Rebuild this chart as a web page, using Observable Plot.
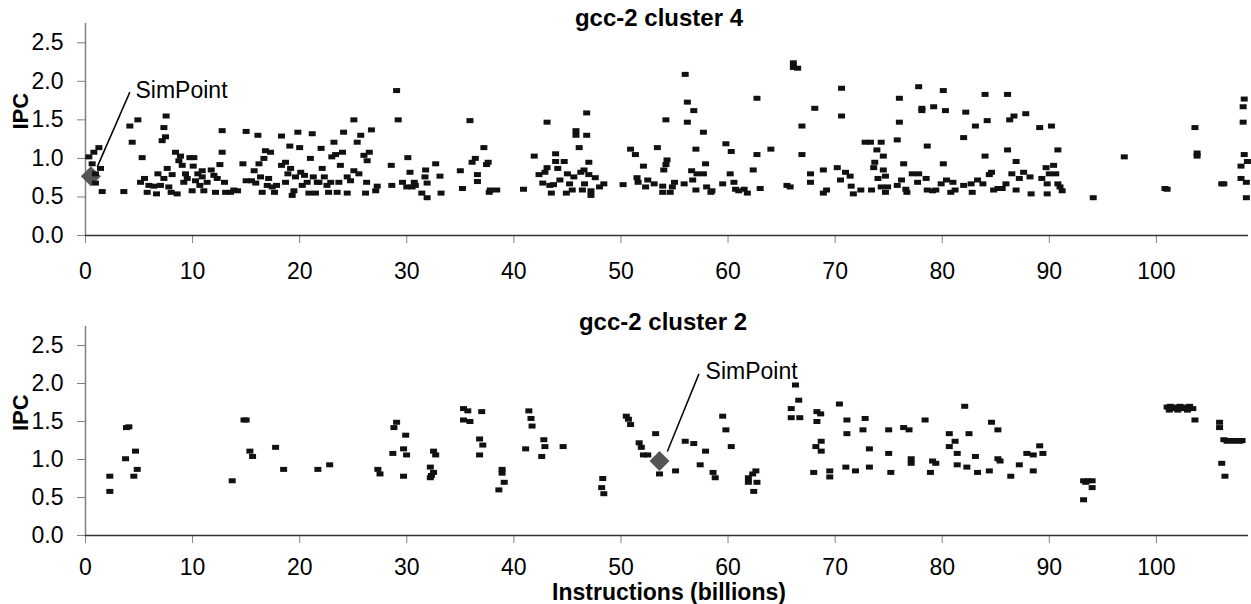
<!DOCTYPE html>
<html><head><meta charset="utf-8">
<script src="https://cdn.jsdelivr.net/npm/d3@7"></script>
<script src="https://cdn.jsdelivr.net/npm/@observablehq/plot@0.6"></script>
<style>body{margin:0;background:#fff} #chart svg{display:block}</style>
</head><body><div id="chart"></div>
<script>
const xTicks = [0,10,20,30,40,50,60,70,80,90,100];
const yTicks = [0,0.5,1,1.5,2,2.5];
const panelTitles = ["gcc-2 cluster 4","gcc-2 cluster 2"];
const xLabel = "Instructions (billions)";
const yLabel = "IPC";
const simLabel = "SimPoint";

// [instructions (billions), IPC]
const cluster4 = [[0.31,1.02],[0.78,1.08],[1.25,1.14],[0.62,0.93],[0.93,0.80],[1.40,0.87],[0.93,0.68],[1.56,0.57],[3.58,0.57],[4.14,1.42],[4.89,1.50],[4.36,1.21],[5.29,1.01],[5.14,0.69],[5.51,0.74],[5.92,0.65],[5.76,0.56],[6.38,0.64],[6.63,0.54],[6.76,0.80],[7.0,0.65],[7.16,1.23],[7.32,1.40],[7.53,1.55],[7.47,1.28],[7.32,0.74],[7.63,0.87],[7.78,0.63],[8.0,0.56],[8.09,0.79],[8.4,1.08],[8.56,0.54],[8.72,0.97],[8.87,1.03],[9.03,0.91],[9.18,0.69],[9.34,0.80],[9.5,0.74],[9.75,1.01],[9.96,0.58],[10.06,0.90],[10.12,1.01],[10.27,0.71],[10.49,0.80],[10.68,0.65],[10.9,0.76],[11.05,0.58],[11.36,0.69],[10.9,0.84],[11.74,0.85],[11.99,0.78],[12.14,0.56],[12.3,0.74],[12.55,0.92],[12.76,1.08],[12.76,1.36],[12.98,0.69],[13.08,0.56],[13.54,0.56],[13.85,0.59],[14.2,0.58],[14.7,0.93],[15.0,1.35],[15.0,0.71],[15.5,0.71],[15.75,0.84],[15.9,0.68],[16.1,1.30],[16.2,0.93],[16.34,0.76],[16.5,0.56],[16.66,1.0],[16.8,1.10],[16.97,0.65],[17.1,0.74],[17.28,1.08],[17.43,0.63],[17.65,0.56],[17.84,0.65],[18.3,1.29],[18.3,0.91],[18.68,0.95],[18.68,0.69],[18.9,0.80],[19.08,1.16],[19.15,0.87],[19.3,0.52],[19.46,0.58],[19.61,0.76],[19.83,1.34],[20.0,1.14],[20.1,0.82],[20.24,0.65],[20.45,0.78],[20.7,0.69],[20.86,0.55],[21.0,1.0],[21.17,1.32],[21.27,0.76],[21.48,0.55],[21.64,0.69],[21.8,0.69],[22.0,1.13],[22.1,0.87],[22.3,0.76],[22.55,0.65],[22.7,0.56],[22.9,0.69],[23.0,1.02],[23.2,1.21],[23.35,1.05],[23.5,0.56],[23.66,0.69],[23.8,0.91],[24.0,1.08],[24.1,1.34],[24.44,0.55],[24.44,0.76],[24.75,0.71],[25.06,1.50],[25.06,0.84],[25.37,1.21],[25.53,0.80],[25.7,1.30],[26.0,1.04],[26.15,0.55],[26.25,0.69],[26.5,1.08],[26.7,1.37],[26.3,0.97],[27.1,0.58],[27.24,0.64],[28.55,0.91],[28.6,0.65],[29.05,1.88],[29.2,1.50],[29.6,0.69],[30.1,1.01],[30.3,0.82],
[30.0,0.63],[30.7,0.69],[30.5,0.63],[30.8,0.65],[31.4,0.55],[31.76,0.85],[31.7,0.76],[31.9,0.68],[31.9,0.49],[32.7,0.93],[33.1,0.77],[33.2,0.55],[35.0,0.84],[35.2,0.61],[35.9,1.49],[36.1,0.95],[36.4,1.0],[36.6,0.79],[36.6,0.70],[37.2,1.14],[37.45,0.92],[37.6,0.95],[37.7,0.56],[37.8,0.59],[38.4,0.59],[40.9,0.60],[41.9,1.03],[42.35,0.79],[42.7,0.68],[42.9,0.82],[43.1,0.88],[43.1,1.47],[43.36,0.65],[43.5,0.55],[43.7,0.66],[43.9,1.06],[43.9,0.96],[44.1,0.87],[44.3,0.72],[44.7,0.96],[44.9,0.55],[45.0,0.80],[45.2,0.67],[45.45,0.59],[45.6,0.76],[45.8,1.36],[45.8,1.30],[46.1,1.14],[46.25,0.82],[46.4,0.59],[46.55,0.85],[46.6,0.67],[46.8,1.59],[46.8,1.30],[47.0,0.95],[47.0,0.79],[47.2,0.58],[47.2,0.52],[47.6,0.75],[48.0,0.63],[48.4,0.67],[50.2,0.66],[50.9,1.12],[51.35,1.05],[51.5,0.75],[51.6,0.69],[52.1,0.90],[52.3,0.63],[52.5,0.72],[53.1,0.67],[53.4,1.14],[53.9,0.64],[53.9,0.56],[54.0,0.85],[54.2,1.50],[54.2,0.92],[54.3,0.98],[54.6,0.56],[54.8,0.63],[55.0,0.69],[55.9,0.67],[56.0,2.09],[56.2,1.73],[56.2,1.47],[56.6,0.84],[56.7,0.72],[56.8,1.62],[57.0,1.12],[57.0,0.59],[57.1,0.80],[57.7,1.34],[57.7,0.80],[57.9,0.93],[58.0,0.63],[58.4,0.56],[58.5,0.58],[59.5,0.67],[59.8,1.19],[60.2,0.80],[60.3,1.09],[60.55,0.69],[60.7,0.60],[61.0,0.58],[61.5,0.60],[61.8,0.55],[62.35,0.85],[62.7,1.78],[62.7,1.05],[63.0,0.61],[64.0,1.12],[65.5,0.65],[65.8,0.63],[66.1,2.24],[66.1,2.18],[66.5,2.17],[66.9,1.42],[66.9,1.05],[67.7,0.80],[67.7,0.69],[68.1,1.65],
[68.9,0.85],[68.9,0.55],[69.2,0.59],[70.2,0.88],[70.5,0.72],[70.6,1.91],[70.6,1.55],[70.97,0.82],[71.4,0.77],[71.5,0.64],[71.7,0.54],[72.4,0.59],[72.8,1.21],[73.3,1.21],[73.4,0.59],[73.6,0.88],[73.7,0.95],[73.9,1.11],[74.0,0.74],[74.3,0.63],[74.3,1.21],[74.5,0.85],[74.5,1.03],[74.7,0.77],[74.7,0.56],[74.9,0.63],[75.8,1.24],[75.8,0.65],[76.0,1.78],[76.0,1.47],[76.2,0.72],[76.4,0.93],[76.6,0.60],[76.7,0.56],[77.2,0.80],[77.7,0.69],[77.8,1.93],[77.8,0.80],[78.1,1.65],[78.1,1.62],[78.5,0.74],[78.6,1.16],[78.6,0.59],[79.1,0.58],[79.2,1.67],[79.4,0.59],[79.9,0.67],[80.1,1.88],[80.1,0.93],[80.3,1.62],[80.4,0.72],[80.8,0.56],[81.0,0.69],[81.2,0.59],[82.0,1.27],[82.0,0.65],[82.2,1.60],[82.7,0.67],[82.8,0.56],[83.1,1.42],[83.3,0.72],[83.8,0.67],[84.0,1.83],[84.0,1.03],[84.2,1.49],[84.4,0.79],[84.6,0.82],[84.8,0.59],[85.2,0.61],[85.6,0.61],[85.95,0.67],[86.1,1.83],[86.1,1.11],[86.3,1.50],[86.5,0.80],[86.7,1.55],[86.9,0.96],[86.9,0.59],[87.2,0.74],[87.6,0.82],[87.8,1.58],[88.2,0.76],[88.3,0.54],[89.1,1.40],[89.3,0.74],[89.7,0.88],[89.8,0.67],[89.8,0.54],[90.0,0.80],[90.2,1.42],[90.4,0.91],[90.6,0.80],[90.8,1.11],[90.8,0.67],[91.0,0.63],[91.2,0.58],[94.1,0.49],[97.0,1.02],[100.8,0.61],[101.0,0.60],[103.6,1.40],[103.8,1.07],[103.8,1.03],[106.1,0.67],[106.3,0.67],[107.9,0.74],[107.9,0.90],[108.1,1.67],[108.1,1.47],[108.2,1.77],[108.2,1.05],[108.4,0.69],[108.4,0.49],[108.5,0.96]];

const cluster2 = [[2.27,0.78],[2.27,0.58],[3.74,1.01],[3.83,1.42],[4.05,1.43],[4.51,0.78],[4.67,1.11],[4.83,0.87],[13.7,0.72],[14.8,1.52],[15.0,1.52],[15.35,1.11],[15.6,1.04],[17.75,1.16],[18.5,0.87],[21.7,0.87],[22.8,0.93],[27.3,0.87],[27.5,0.81],[28.7,1.08],[28.8,1.42],[29.05,1.49],[29.7,1.14],[29.7,0.78],[29.9,1.32],[29.98,1.06],
[32.2,0.90],[32.3,0.79],[32.5,0.83],[32.5,1.11],[32.7,1.06],[32.2,0.76],[35.3,1.67],[35.7,1.64],[35.3,1.52],[35.9,1.50],[37.0,1.63],[36.8,1.27],[37.1,1.19],[36.8,1.06],[38.9,0.87],[38.9,0.82],[39.1,0.70],[38.6,0.60],[41.4,1.64],[41.6,1.54],[41.7,1.44],[41.1,1.14],[42.8,1.26],[42.9,1.17],[42.6,1.04],[44.6,1.17],[48.3,0.75],[48.2,0.63],[48.4,0.55],[50.5,1.57],[50.7,1.53],[50.9,1.46],[51.7,1.22],[51.9,1.16],[52.1,1.06],[52.5,1.06],[53.24,1.34],[53.6,0.81],[55.1,0.85],[56.0,1.24],[56.8,1.21],[57.4,0.93],[57.9,1.11],[58.6,0.83],[58.8,0.76],[59.5,1.57],[59.8,1.39],[60.3,1.17],[61.9,0.70],[62.3,0.81],[62.6,0.85],[62.7,0.70],[62.4,0.58],[61.9,0.76],[65.9,1.67],[66.3,1.98],[66.6,1.78],[65.9,1.55],[66.7,1.55],[68.0,0.83],[68.2,1.17],[68.3,1.63],[68.3,1.50],
[68.65,1.60],[68.7,1.24],[68.7,1.11],[69.5,0.85],[69.5,0.77],[70.4,1.73],[71.0,0.90],[71.1,1.52],[71.1,1.34],[71.9,0.85],[72.6,1.39],[72.8,1.54],[73.2,1.14],[73.2,0.90],[75.0,1.39],[75.0,1.08],[75.2,0.83],[76.4,1.42],[76.9,1.39],[77.1,1.01],[77.1,0.95],[78.4,1.52],[78.9,0.83],[79.1,0.98],[79.4,0.95],[80.66,1.34],[80.66,1.17],[81.2,1.24],[81.4,1.08],[81.4,0.93],[82.1,1.70],[82.3,0.90],[82.5,1.34],[83.1,1.04],[83.3,0.83],[84.4,0.85],[84.6,1.49],[85.2,1.39],[85.2,1.01],[85.4,0.98],[86.4,0.78],[87.2,0.93],[87.9,1.08],[88.5,1.06],[88.5,0.85],[89.1,1.18],[89.4,1.08],[93.2,0.72],[93.6,0.72],[94.0,0.72],[94.0,0.63],[93.2,0.47],[93.4,0.70],
[101.0,1.69],[101.3,1.70],[101.6,1.67],[101.9,1.69],[102.2,1.70],[102.5,1.67],[102.8,1.69],[103.1,1.70],[103.4,1.67],[101.2,1.65],[102.0,1.65],[102.9,1.65],[103.6,1.52],[105.9,1.49],[105.9,1.42],[106.1,0.95],[106.4,0.78],[106.3,1.26],[106.6,1.24],[106.9,1.25],[107.2,1.24],[107.5,1.25],[107.8,1.24],[108.0,1.25]];

const simPoint4 = [[0.5,0.77]];
const simPoint2 = [[53.6,0.98]];
// callout: [x1, y1, x2, y2] in data units, label anchored at [x, y]
const callout4 = [[1.09,0.887,4.14,1.86]];
const callout2 = [[54.33,1.105,57.28,2.127]];
const calloutLabel4 = [[4.67,1.88]];
const calloutLabel2 = [[57.9,2.16]];

const FONT = "'Liberation Sans', Arial, Helvetica, sans-serif";
const rectSymbol = {draw(c){c.moveTo(-3.5,-2.5);c.lineTo(3.5,-2.5);c.lineTo(3.5,2.5);c.lineTo(-3.5,2.5);c.closePath();}};
const diamondSymbol = {draw(c){c.moveTo(0,-10);c.lineTo(10,0);c.lineTo(0,10);c.lineTo(-10,0);c.closePath();}};

function panel(o) {
  const marks = [
    Plot.ruleX([0], {stroke: "#808080", strokeWidth: 1.5}),
    Plot.axisY({ticks: yTicks, tickFormat: d3.format(".1f"), tickSize: 8, tickPadding: 14, label: null, stroke: "#808080", fill: "#000", fontSize: 23}),
    Plot.axisX({ticks: xTicks, tickFormat: d3.format("d"), tickSize: 8, tickPadding: o.xPad, label: null, stroke: "#808080", fill: "#000", fontSize: 23}),
    Plot.ruleY([0], {stroke: "#333", strokeWidth: 1.5}),
    Plot.dot(o.sim, {x: d => d[0], y: d => d[1], symbol: diamondSymbol, fill: "#555", stroke: "none"}),
    Plot.dot(o.data, {x: d => d[0], y: d => d[1], symbol: rectSymbol, fill: "#111", stroke: "none"}),
    Plot.link(o.callout, {x1: d => d[0], y1: d => d[1], x2: d => d[2], y2: d => d[3], stroke: "#000", strokeWidth: 1.5}),
    Plot.text(o.calloutLabel, {x: d => d[0], y: d => d[1], text: () => simLabel, textAnchor: "start", lineAnchor: "middle", fontSize: 23, fill: "#000"}),
    Plot.text([o.title], {frameAnchor: "top", lineAnchor: "middle", dy: o.titleDy, dx: o.titleDx, fontSize: 24, fontWeight: "bold", fill: "#000"}),
    Plot.text([yLabel], {frameAnchor: "left", lineAnchor: "middle", dx: -65, rotate: -90, fontSize: 22, fontWeight: "bold", fill: "#000"})
  ];
  if (o.xLabel) marks.push(Plot.text([xLabel], {frameAnchor: "bottom", lineAnchor: "middle", dy: 57, dx: 2, fontSize: 23, fontWeight: "bold", fill: "#000"}));
  return Plot.plot({
    width: 1251, height: o.height,
    marginLeft: 85, marginRight: 3, marginTop: o.marginTop, marginBottom: o.marginBottom,
    x: {domain: [0, 108.6], axis: null},
    y: {domain: [0, 2.75], axis: null},
    style: {fontFamily: FONT, fontSize: "23px", color: "#000", background: "#fff", overflow: "visible"},
    marks
  });
}

const chart = document.getElementById("chart");
chart.append(panel({data: cluster4, sim: simPoint4, callout: callout4, calloutLabel: calloutLabel4, title: panelTitles[0], height: 280, marginTop: 23, marginBottom: 45, xPad: 19, titleDy: -5, titleDx: -8, xLabel: false}));
chart.append(panel({data: cluster2, sim: simPoint2, callout: callout2, calloutLabel: calloutLabel2, title: panelTitles[1], height: 324, marginTop: 46, marginBottom: 69, xPad: 15, titleDy: -4, titleDx: -4, xLabel: true}));
</script>
</body></html>
